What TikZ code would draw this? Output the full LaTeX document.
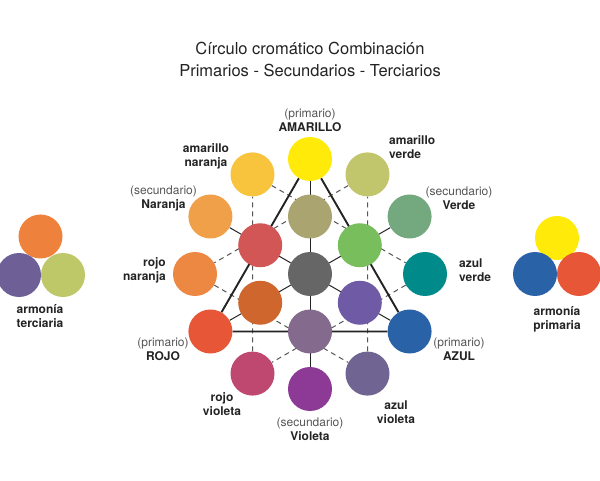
\documentclass[tikz,border=0pt]{standalone}
\usepackage{fontspec}
\setmainfont{TeX Gyre Heros}
\usetikzlibrary{calc,backgrounds}
\definecolor{tinta}{RGB}{35,35,35}
\definecolor{gris}{RGB}{85,85,85}
% outer ring
\definecolor{camarillo}{RGB}{255,234,10}
\definecolor{camverde}{RGB}{193,198,108}
\definecolor{cverde}{RGB}{116,168,126}
\definecolor{cazverde}{RGB}{0,139,138}
\definecolor{cazul}{RGB}{42,98,168}
\definecolor{cazvioleta}{RGB}{112,100,146}
\definecolor{cvioleta}{RGB}{140,58,150}
\definecolor{crovioleta}{RGB}{190,72,112}
\definecolor{crojo}{RGB}{232,86,56}
\definecolor{cronaranja}{RGB}{236,136,66}
\definecolor{cnaranja}{RGB}{239,160,72}
\definecolor{camnaranja}{RGB}{248,196,62}
% inner ring
\definecolor{coliva}{RGB}{170,165,112}
\definecolor{crojoin}{RGB}{210,86,86}
\definecolor{cverdein}{RGB}{120,190,92}
\definecolor{ccentro}{RGB}{102,102,102}
\definecolor{cteja}{RGB}{206,102,46}
\definecolor{cmorado}{RGB}{110,90,165}
\definecolor{cmalva}{RGB}{132,106,140}
% harmonies
\definecolor{hnaranja}{RGB}{238,130,60}
\definecolor{hmorado}{RGB}{110,95,150}
\definecolor{hverde}{RGB}{190,200,105}

\begin{document}
\begin{tikzpicture}[x=1pt, y=1pt,
    disco/.style={circle, minimum size=44pt, inner sep=0pt},
    etiq/.style={font=\fontsize{12}{14}\selectfont, align=center, text=tinta, inner sep=0pt},
    grueso/.style={line width=1.9pt, tinta},
    fino/.style={line width=1pt, tinta},
    guion/.style={line width=1pt, gris, dash pattern=on 5pt off 4pt}]
  \useasboundingbox (0,0) rectangle (600,480);
  \coordinate (c) at (310,206);
  % Title
  \node[font=\fontsize{16.5}{22}\selectfont, align=center, text=tinta] (titulo) at (310,421)
    {Círculo cromático Combinación\\Primarios - Secundarios - Terciarios};
  % Outer ring
  \node[disco, fill=camarillo] (am) at ($(c)+(90:115)$) {};
  \node[disco, fill=camverde] (amv) at ($(c)+(60:115)$) {};
  \node[disco, fill=cverde] (ve) at ($(c)+(30:115)$) {};
  \node[disco, fill=cazverde] (azv) at ($(c)+(0:115)$) {};
  \node[disco, fill=cazul] (az) at ($(c)+(-30:115)$) {};
  \node[disco, fill=cazvioleta] (azvi) at ($(c)+(-60:115)$) {};
  \node[disco, fill=cvioleta] (vi) at ($(c)+(-90:115)$) {};
  \node[disco, fill=crovioleta] (rovi) at ($(c)+(-120:115)$) {};
  \node[disco, fill=crojo] (ro) at ($(c)+(-150:115)$) {};
  \node[disco, fill=cronaranja] (ron) at ($(c)+(180:115)$) {};
  \node[disco, fill=cnaranja] (na) at ($(c)+(150:115)$) {};
  \node[disco, fill=camnaranja] (amn) at ($(c)+(120:115)$) {};
  % Inner ring
  \node[disco, fill=cverdein] (in1) at ($(c)+(30:57.5)$) {};
  \node[disco, fill=coliva] (in2) at ($(c)+(90:57.5)$) {};
  \node[disco, fill=crojoin] (in3) at ($(c)+(150:57.5)$) {};
  \node[disco, fill=cteja] (in4) at ($(c)+(210:57.5)$) {};
  \node[disco, fill=cmalva] (in5) at ($(c)+(270:57.5)$) {};
  \node[disco, fill=cmorado] (in6) at ($(c)+(330:57.5)$) {};
  \node[disco, fill=ccentro] (centro) at (c) {};
  % Lines
  \begin{scope}[on background layer]
    \draw[guion] (amn) -- (azv) -- (rovi) -- (amn);
    \draw[guion] (amv) -- (ron) -- (azvi) -- (amv);
    \draw[fino] (am) -- (vi);
    \draw[fino] (na) -- (az);
    \draw[fino] (ve) -- (ro);
    \draw[grueso] (am) -- (ro) -- (az) -- (am);
  \end{scope}
  % Labels
  \node[etiq] (l-am) at (310,359.5) {\textcolor{gris}{(primario)}\\\textbf{AMARILLO}};
  \node[etiq] (l-amn) at (206,323.5) {\textbf{amarillo}\\\textbf{naranja}};
  \node[etiq, align=left, anchor=west] (l-amv) at (389,332.5) {\textbf{amarillo}\\\textbf{verde}};
  \node[etiq] (l-na) at (163.5,282) {\textcolor{gris}{(secundario)}\\\textbf{Naranja}};
  \node[etiq] (l-ve) at (459,282) {\textcolor{gris}{(secundario)}\\\textbf{Verde}};
  \node[etiq, align=right, anchor=east] (l-ron) at (166,210) {\textbf{rojo}\\\textbf{naranja}};
  \node[etiq, align=left, anchor=west] (l-azv) at (459,210) {\textbf{azul}\\\textbf{verde}};
  \node[etiq] (l-ro) at (163,131) {\textcolor{gris}{(primario)}\\\textbf{ROJO}};
  \node[etiq] (l-az) at (459,131) {\textcolor{gris}{(primario)}\\\textbf{AZUL}};
  \node[etiq] (l-rovi) at (222,76) {\textbf{rojo}\\\textbf{violeta}};
  \node[etiq] (l-vi) at (310,51) {\textcolor{gris}{(secundario)}\\\textbf{Violeta}};
  \node[etiq] (l-azvi) at (396,67.5) {\textbf{azul}\\\textbf{violeta}};
  % Harmony tertiary
  \node[disco, fill=hnaranja] (ht1) at (40.5,243.5) {};
  \node[disco, fill=hmorado] (ht2) at (19,205) {};
  \node[disco, fill=hverde] (ht3) at (63,205) {};
  \node[etiq] (l-ht) at (40,163.5) {\textbf{armonía}\\\textbf{terciaria}};
  % Harmony primary
  \node[disco, fill=camarillo] (hp1) at (557,242) {};
  \node[disco, fill=cazul] (hp2) at (535,206) {};
  \node[disco, fill=crojo] (hp3) at (579,206) {};
  \node[etiq] (l-hp) at (557,161) {\textbf{armonía}\\\textbf{primaria}};
\end{tikzpicture}
\end{document}
